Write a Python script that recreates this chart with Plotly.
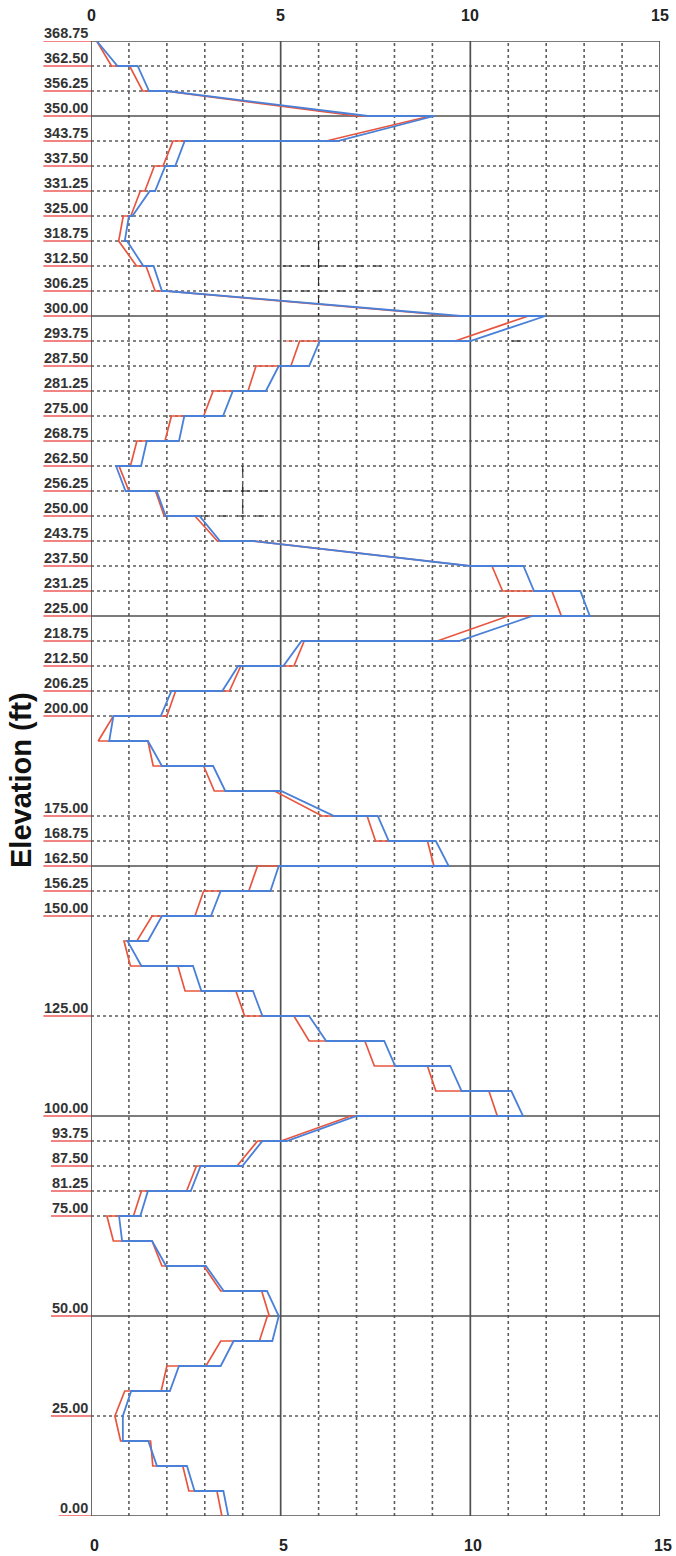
import plotly.graph_objects as go

# ---------------- data ----------------
LEVELS = [368.75, 362.50, 356.25, 350.00, 343.75, 337.50, 331.25, 325.00, 318.75, 312.50,
          306.25, 300.00, 293.75, 287.50, 281.25, 275.00, 268.75, 262.50, 256.25, 250.00,
          243.75, 237.50, 231.25, 225.00, 218.75, 212.50, 206.25, 200.00, 193.75, 187.50,
          181.25, 175.00, 168.75, 162.50, 156.25, 150.00, 143.75, 137.50, 131.25, 125.00,
          118.75, 112.50, 106.25, 100.00, 93.75, 87.50, 81.25, 75.00, 68.75, 62.50,
          56.25, 50.00, 43.75, 37.50, 31.25, 25.00, 18.75, 12.50, 6.25, 0.00]

# value where the line arrives at each level (from the story above)
RED_ARRIVE = [0.15, 0.54, 1.36, 7.00, 6.20, 1.90, 1.42, 1.05, 0.73, 1.20,
              1.69, 9.60, 9.60, 5.27, 4.14, 2.97, 1.95, 1.04, 1.00, 1.93,
              3.33, 10.00, 10.85, 12.40, 9.13, 5.35, 3.65, 2.00, 0.19, 1.64,
              3.25, 6.09, 7.50, 9.04, 4.16, 2.74, 1.21, 1.04, 2.48, 4.05,
              5.75, 7.47, 9.09, 10.71, 5.01, 3.85, 2.52, 1.12, 0.59, 1.87,
              3.42, 4.70, 4.44, 3.03, 1.85, 0.63, 0.78, 1.63, 2.58, 3.45]
# value where the line leaves each level (into the story below)
RED_DEPART = [0.15, 1.02, 1.95, 8.95, 2.16, 1.67, 1.30, 0.85, 0.73, 1.45,
              1.96, 11.53, 5.50, 4.35, 3.22, 2.12, 1.21, 0.74, 1.70, 2.74,
              4.27, 10.57, 12.15, 11.00, 5.62, 3.95, 2.23, 0.59, 1.50, 2.97,
              4.84, 7.28, 8.87, 4.39, 2.97, 1.61, 0.87, 2.29, 3.82, 5.35,
              7.22, 8.87, 10.49, 6.85, 4.39, 2.78, 1.33, 0.42, 1.61, 2.97,
              4.50, 4.65, 3.42, 2.00, 0.89, 0.63, 1.57, 2.42, 3.32, 3.45]

BLUE_ARRIVE = [0.15, 0.70, 1.53, 7.30, 6.50, 2.22, 1.69, 1.09, 0.89, 1.38,
               1.87, 9.75, 10.00, 5.75, 4.61, 3.48, 2.32, 1.32, 0.91, 1.97,
               3.40, 10.00, 11.68, 13.15, 9.70, 5.07, 3.46, 1.84, 0.48, 1.87,
               3.54, 6.41, 7.85, 9.43, 4.73, 3.16, 1.50, 1.33, 2.91, 4.52,
               6.20, 8.02, 9.77, 11.39, 5.16, 3.99, 2.63, 1.30, 0.82, 1.98,
               3.50, 4.95, 4.78, 3.42, 2.08, 0.84, 0.84, 1.74, 2.73, 3.62]
BLUE_DEPART = [0.15, 1.23, 2.00, 9.05, 2.47, 1.96, 1.55, 1.00, 0.95, 1.65,
               1.98, 11.98, 6.03, 4.95, 3.74, 2.46, 1.47, 0.66, 1.73, 2.86,
               4.27, 11.40, 12.90, 11.64, 5.55, 3.88, 2.12, 0.59, 1.50, 3.22,
               5.01, 7.56, 9.09, 4.95, 3.42, 1.87, 0.96, 2.69, 4.27, 5.75,
               7.73, 9.47, 11.08, 7.00, 4.52, 2.89, 1.50, 0.74, 1.61, 3.03,
               4.64, 4.95, 3.76, 2.32, 1.06, 0.84, 1.51, 2.53, 3.49, 3.62]

# elevations that carry a label and a grid line
TICK_LEVELS = [368.75, 362.50, 356.25, 350.00, 343.75, 337.50, 331.25, 325.00, 318.75, 312.50,
               306.25, 300.00, 293.75, 287.50, 281.25, 275.00, 268.75, 262.50, 256.25, 250.00,
               243.75, 237.50, 231.25, 225.00, 218.75, 212.50, 206.25, 200.00, 175.00, 168.75,
               162.50, 156.25, 150.00, 125.00, 100.00, 93.75, 87.50, 81.25, 75.00, 50.00,
               25.00, 0.00]
MAJOR_LEVELS = [368.75, 350.00, 300.00, 225.00, 162.50, 100.00, 50.00, 0.00]
X_MINOR = [1, 2, 3, 4, 6, 7, 8, 9, 11, 12, 13, 14]
X_MAJOR = [0, 5, 10, 15]
X_LABELS = ["0", "5", "10", "15"]

# thin black dashed guide marks seen on the sheet (x0, y0, x1, y1)
GUIDE_SEGMENTS = [(5.05, 312.50, 7.90, 312.50), (5.05, 306.25, 7.90, 306.25),
                  (6.00, 318.75, 6.00, 300.00), (11.10, 293.75, 11.60, 293.75),
                  (3.00, 256.25, 4.85, 256.25), (2.90, 250.00, 4.85, 250.00),
                  (4.00, 262.50, 4.00, 250.00)]
RED_GUIDE = [(5.12, 293.75, 5.50, 293.75)]

# ---------------- figure ----------------
RED = "#e8553f"
BLUE = "#4a80d8"
GRID = "#5c5c5c"
FONT = "Liberation Sans, Arial, sans-serif"


def polyline(arrive, depart):
    xs, ys = [], []
    for lv, a, d in zip(LEVELS, arrive, depart):
        xs += [a, d]
        ys += [lv, lv]
    return xs, ys


fig = go.Figure()

for x0, y0, x1, y1 in GUIDE_SEGMENTS:
    fig.add_trace(go.Scatter(x=[x0, x1], y=[y0, y1], mode="lines",
                             line=dict(color="#222222", width=1, dash="dash"),
                             hoverinfo="skip", showlegend=False))
for x0, y0, x1, y1 in RED_GUIDE:
    fig.add_trace(go.Scatter(x=[x0, x1], y=[y0, y1], mode="lines",
                             line=dict(color=RED, width=1, dash="dash"),
                             hoverinfo="skip", showlegend=False))

rx, ry = polyline(RED_ARRIVE, RED_DEPART)
bx, by = polyline(BLUE_ARRIVE, BLUE_DEPART)
fig.add_trace(go.Scatter(x=rx, y=ry, mode="lines", line=dict(color=RED, width=1.7),
                         showlegend=False))
fig.add_trace(go.Scatter(x=bx, y=by, mode="lines", line=dict(color=BLUE, width=1.8),
                         showlegend=False))

shapes = []
for lv in TICK_LEVELS:
    if lv in MAJOR_LEVELS:
        continue
    shapes.append(dict(type="line", xref="x", yref="y", x0=0, x1=15, y0=lv, y1=lv,
                       line=dict(color=GRID, width=1.6, dash="dot"), layer="below"))
for xv in X_MINOR:
    shapes.append(dict(type="line", xref="x", yref="y", x0=xv, x1=xv, y0=0, y1=368.75,
                       line=dict(color=GRID, width=1.6, dash="dot"), layer="below"))
for lv in MAJOR_LEVELS:
    shapes.append(dict(type="line", xref="x", yref="y", x0=0, x1=15, y0=lv, y1=lv,
                       line=dict(color="#505050", width=1.7), layer="below"))
for xv in X_MAJOR:
    shapes.append(dict(type="line", xref="x", yref="y", x0=xv, x1=xv, y0=0, y1=368.75,
                       line=dict(color="#505050", width=1.7), layer="below"))

PLOT_W = 676 - 91 - 16
annotations = []
for lv in TICK_LEVELS:
    label = f"{lv:.2f}"
    annotations.append(dict(text=f"<b>{label}</b>", xref="paper", yref="y", x=0, y=lv,
                            xanchor="right", yanchor="bottom", xshift=-1, yshift=-2,
                            showarrow=False,
                            font=dict(family=FONT, size=14.5, color="#333333")))
    w = len(label) * 7.6
    shapes.append(dict(type="line", xref="paper", yref="y", x0=-(w + 2) / PLOT_W, x1=0,
                       y0=lv, y1=lv, line=dict(color="#ec5a5a", width=1.6)))

for xv, t in zip(X_MAJOR, X_LABELS):
    annotations.append(dict(text=f"<b>{t}</b>", xref="x", yref="paper", x=xv, y=1,
                            yanchor="middle", yshift=26, showarrow=False,
                            font=dict(family=FONT, size=16, color="#222222")))
    annotations.append(dict(text=f"<b>{t}</b>", xref="x", yref="paper", x=xv, y=0,
                            yanchor="middle", yshift=-29, xshift=3, showarrow=False,
                            font=dict(family=FONT, size=16, color="#222222")))

annotations.append(dict(text="<b>Elevation (ft)</b>", xref="paper", yref="y", x=0, y=184,
                        xanchor="center", yanchor="middle", xshift=-70, textangle=-90,
                        showarrow=False, font=dict(family=FONT, size=29, color="#111111")))

fig.update_layout(
    width=676, height=1556,
    margin=dict(l=91, r=16, t=41, b=40),
    paper_bgcolor="white", plot_bgcolor="white",
    xaxis=dict(range=[0, 15], showgrid=False, zeroline=False, showticklabels=False,
               ticks="", showline=False, fixedrange=True),
    yaxis=dict(range=[0, 368.75], showgrid=False, zeroline=False, showticklabels=False,
               ticks="", showline=False, fixedrange=True),
    shapes=shapes,
    annotations=annotations,
    showlegend=False,
)

fig.write_html("out.html")
